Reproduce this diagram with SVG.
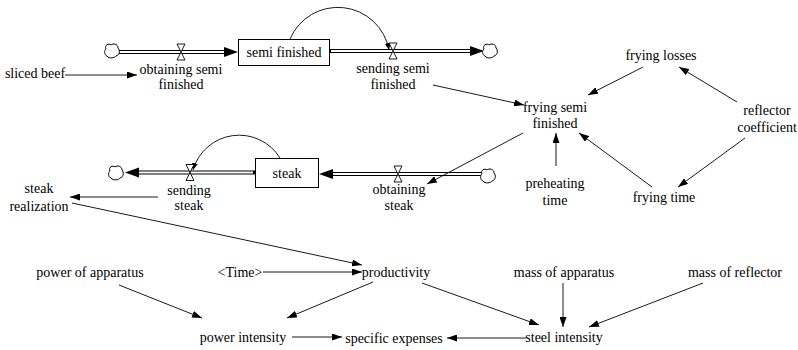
<svg xmlns="http://www.w3.org/2000/svg" width="798" height="350" viewBox="0 0 798 350" font-family="Liberation Serif, Times New Roman, serif">
<defs>
<style>
.t{font-family:"Liberation Serif",serif;font-size:14px;text-anchor:middle;fill:#000}
.lk{fill:none;stroke:#000;stroke-width:0.9}
.pO{fill:none;stroke:#000;stroke-width:4.2}
.pI{fill:none;stroke:#fff;stroke-width:2}
.ah{fill:#000;stroke:none}
.box{fill:#fff;stroke:#000;stroke-width:1}
.vl{fill:#fff;stroke:#000;stroke-width:0.9}
.cl{fill:#fff;stroke:#000;stroke-width:1}
</style>
<marker id="a" viewBox="0 0 10 7" markerUnits="userSpaceOnUse" markerWidth="10" markerHeight="7" refX="10" refY="3.5" orient="auto"><path d="M0,0 L10,3.5 L0,7 z" fill="#000"/></marker>
<marker id="s" viewBox="0 0 7 6" markerUnits="userSpaceOnUse" markerWidth="7" markerHeight="6" refX="7" refY="3" orient="auto"><path d="M0,0 L7,3 L0,6 z" fill="#000"/></marker>
</defs>
<rect width="798" height="350" fill="#fff"/>

<g id="connectors">
<path class="pO" d="M118,52 H226"/><path class="pI" d="M118,52 H226"/>
<polygon class="ah" points="224,47 238,52 224,57"/>
<path class="pO" d="M329,51 H472"/><path class="pI" d="M331,51 H472"/>
<polygon class="ah" points="470,46 484,51 470,56"/>
<path class="pO" d="M255,172.5 H138"/><path class="pI" d="M253,172.5 H138"/>
<polygon class="ah" points="139,167.5 125,172.5 139,177.5"/>
<path class="pO" d="M482,174 H331"/><path class="pI" d="M482,174 H331"/>
<polygon class="ah" points="333,169 319,174 333,179"/>
<path class="lk" d="M290,39 A52,52 0 0 1 389,50" marker-end="url(#s)"/>
<path class="lk" d="M280,158 A48,48 0 0 0 193,170" marker-end="url(#s)"/>
<path class="lk" d="M65,75 L137,75" marker-end="url(#a)"/>
<path class="lk" d="M433,85 L524,105" marker-end="url(#a)"/>
<path class="lk" d="M643,67 L588,95" marker-end="url(#a)"/>
<path class="lk" d="M737,102 L679,67" marker-end="url(#a)"/>
<path class="lk" d="M745,138 L678,187" marker-end="url(#a)"/>
<path class="lk" d="M652,187 L579,133" marker-end="url(#a)"/>
<path class="lk" d="M556,166 L556,133" marker-end="url(#a)"/>
<path class="lk" d="M523,133 L427,184" marker-end="url(#a)"/>
<path class="lk" d="M158,197 L70,197" marker-end="url(#a)"/>
<path class="lk" d="M72,203 L362,265" marker-end="url(#a)"/>
<path class="lk" d="M263,272 L362,272" marker-end="url(#a)"/>
<path class="lk" d="M119,285 L202,318" marker-end="url(#a)"/>
<path class="lk" d="M373,282 L287,318" marker-end="url(#a)"/>
<path class="lk" d="M292,337 L342,337" marker-end="url(#a)"/>
<path class="lk" d="M422,283 L539,325" marker-end="url(#a)"/>
<path class="lk" d="M563,283 L563,327" marker-end="url(#a)"/>
<path class="lk" d="M703,283 L589,327" marker-end="url(#a)"/>
<path class="lk" d="M526,338 L447,338" marker-end="url(#a)"/>
</g>

<g id="cloud-1"><path class="cl" transform="translate(112,51)" d="M-5,5 C-8,4 -8,-1 -6,-2 C-8,-6 -3,-8 -1,-6 C1,-8 6,-7 6,-3 C8,-1 8,4 4,5 C3,7 -3,8 -5,5 Z"/></g>
<g id="cloud-2"><path class="cl" transform="translate(490,51)" d="M-5,5 C-8,4 -8,-1 -6,-2 C-8,-6 -3,-8 -1,-6 C1,-8 6,-7 6,-3 C8,-1 8,4 4,5 C3,7 -3,8 -5,5 Z"/></g>
<g id="cloud-3"><path class="cl" transform="translate(116,173)" d="M-5,5 C-8,4 -8,-1 -6,-2 C-8,-6 -3,-8 -1,-6 C1,-8 6,-7 6,-3 C8,-1 8,4 4,5 C3,7 -3,8 -5,5 Z"/></g>
<g id="cloud-4"><path class="cl" transform="translate(488,176)" d="M-5,5 C-8,4 -8,-1 -6,-2 C-8,-6 -3,-8 -1,-6 C1,-8 6,-7 6,-3 C8,-1 8,4 4,5 C3,7 -3,8 -5,5 Z"/></g>

<g id="semi-finished"><rect class="box" x="238.5" y="39.5" width="91" height="26"/><text class="t" x="284" y="57">semi finished</text></g>
<g id="steak"><rect class="box" x="255.5" y="158.5" width="63" height="29"/><text class="t" x="287" y="178">steak</text></g>

<g id="obtaining-semi-finished"><path class="vl" d="M177,44 H185 L177,60 H185 Z"/><text class="t" x="181" y="74">obtaining semi</text><text class="t" x="181" y="89">finished</text></g>
<g id="sending-semi-finished"><path class="vl" d="M389,43 H397 L389,59 H397 Z"/><text class="t" x="393" y="73">sending semi</text><text class="t" x="393" y="89">finished</text></g>
<g id="sending-steak"><path class="vl" d="M186,164.5 H194 L186,180.5 H194 Z"/><text class="t" x="189" y="195">sending</text><text class="t" x="189" y="210">steak</text></g>
<g id="obtaining-steak"><path class="vl" d="M394,166 H402 L394,182 H402 Z"/><text class="t" x="399" y="194">obtaining</text><text class="t" x="399" y="210">steak</text></g>

<g id="sliced-beef"><text class="t" x="35" y="78">sliced beef</text></g>
<g id="frying-losses"><text class="t" x="661" y="60">frying losses</text></g>
<g id="frying-semi-finished"><text class="t" x="555" y="112">frying semi</text><text class="t" x="555" y="128">finished</text></g>
<g id="reflector-coefficient"><text class="t" x="767" y="115">reflector</text><text class="t" x="767" y="132">coefficient</text></g>
<g id="frying-time"><text class="t" x="664" y="202">frying time</text></g>
<g id="preheating-time"><text class="t" x="555" y="188">preheating</text><text class="t" x="555" y="205">time</text></g>
<g id="steak-realization"><text class="t" x="39" y="193">steak</text><text class="t" x="39" y="211">realization</text></g>
<g id="power-of-apparatus"><text class="t" x="90" y="277">power of apparatus</text></g>
<g id="time"><text class="t" x="240" y="277">&lt;Time&gt;</text></g>
<g id="productivity"><text class="t" x="396" y="277">productivity</text></g>
<g id="mass-of-apparatus"><text class="t" x="564" y="277">mass of apparatus</text></g>
<g id="mass-of-reflector"><text class="t" x="735" y="277">mass of reflector</text></g>
<g id="power-intensity"><text class="t" x="243" y="342">power intensity</text></g>
<g id="specific-expenses"><text class="t" x="394" y="343">specific expenses</text></g>
<g id="steel-intensity"><text class="t" x="564" y="342">steel intensity</text></g>
</svg>
